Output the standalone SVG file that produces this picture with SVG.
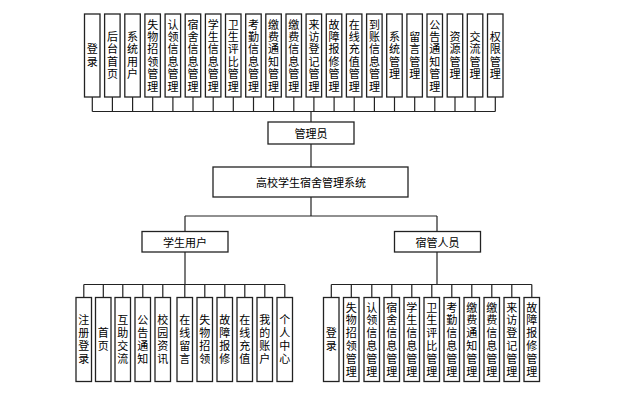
<svg xmlns="http://www.w3.org/2000/svg" width="627" height="398" viewBox="0 0 627 398">
<style>
.box{fill:#fff;stroke:#222;stroke-width:1.3}
.ln{stroke:#222;stroke-width:1.2;fill:none}
.t{font-family:"Noto Sans CJK SC","Noto Sans",sans-serif;font-size:11px;fill:#000;text-anchor:middle;dominant-baseline:central}
.v{font-family:"Noto Sans CJK SC","Noto Sans",sans-serif;font-size:11px;fill:#000;text-anchor:middle;writing-mode:vertical-rl;text-orientation:upright}
.vt{letter-spacing:1.4px}
.vb{letter-spacing:1.8px}
</style>
<rect width="627" height="398" fill="#fff"/>
<g id="connectors" class="ln">
<path d="M92.3 97V111.5M112.4 97V111.5M132.6 97V111.5M152.7 97V111.5M172.9 97V111.5M193 97V111.5M213.2 97V111.5M233.3 97V111.5M253.5 97V111.5M273.6 97V111.5M293.8 97V111.5M313.9 97V111.5M334.1 97V111.5M354.2 97V111.5M374.4 97V111.5M394.5 97V111.5M414.7 97V111.5M434.8 97V111.5M455 97V111.5M475.1 97V111.5M495.3 97V111.5"/>
<path d="M92.3 111.5H495.3M311 111.5V122M311 144V167M311 197V216M185 216H437M185 216V231.5M437 216V231.5M185 252V284.5M437 252V284.5"/>
<path d="M83.8 284.5H284.8M83.8 284.5V297.5M103.3 284.5V297.5M122.8 284.5V297.5M142.8 284.5V297.5M162.8 284.5V297.5M184.8 284.5V297.5M204.8 284.5V297.5M224.8 284.5V297.5M244.8 284.5V297.5M264.8 284.5V297.5M284.8 284.5V297.5"/>
<path d="M331.3 284.5H531.8M331.3 284.5V297.5M351.3 284.5V297.5M371.8 284.5V297.5M391.8 284.5V297.5M411.8 284.5V297.5M431.8 284.5V297.5M451.8 284.5V297.5M471.8 284.5V297.5M491.8 284.5V297.5M511.8 284.5V297.5M531.8 284.5V297.5"/>
</g>
<g id="admin"><rect class="box" x="268" y="122" width="86" height="22"/><text class="t" x="311" y="133">管理员</text></g>
<g id="system"><rect class="box" x="213" y="167" width="195" height="30"/><text class="t" x="311" y="182">高校学生宿舍管理系统</text></g>
<g id="student"><rect class="box" x="142" y="231.5" width="86" height="20.5"/><text class="t" x="185" y="241.8">学生用户</text></g>
<g id="dorm"><rect class="box" x="394.5" y="231.5" width="86" height="20.5"/><text class="t" x="437.5" y="241.8">宿管人员</text></g>

<g id="a0"><rect class="box" x="84.5" y="14" width="15.5" height="83"/><text class="v vt" x="92.3" y="56.2">登录</text></g>
<g id="a1"><rect class="box" x="104.6" y="14" width="15.5" height="83"/><text class="v vt" x="112.4" y="56.2">后台首页</text></g>
<g id="a2"><rect class="box" x="124.8" y="14" width="15.5" height="83"/><text class="v vt" x="132.6" y="56.2">系统用户</text></g>
<g id="a3"><rect class="box" x="144.9" y="14" width="15.5" height="83"/><text class="v vt" x="152.7" y="56.2">失物招领管理</text></g>
<g id="a4"><rect class="box" x="165.1" y="14" width="15.5" height="83"/><text class="v vt" x="172.9" y="56.2">认领信息管理</text></g>
<g id="a5"><rect class="box" x="185.2" y="14" width="15.5" height="83"/><text class="v vt" x="193" y="56.2">宿舍信息管理</text></g>
<g id="a6"><rect class="box" x="205.4" y="14" width="15.5" height="83"/><text class="v vt" x="213.2" y="56.2">学生信息管理</text></g>
<g id="a7"><rect class="box" x="225.5" y="14" width="15.5" height="83"/><text class="v vt" x="233.3" y="56.2">卫生评比管理</text></g>
<g id="a8"><rect class="box" x="245.7" y="14" width="15.5" height="83"/><text class="v vt" x="253.5" y="56.2">考勤信息管理</text></g>
<g id="a9"><rect class="box" x="265.8" y="14" width="15.5" height="83"/><text class="v vt" x="273.6" y="56.2">缴费通知管理</text></g>
<g id="a10"><rect class="box" x="286" y="14" width="15.5" height="83"/><text class="v vt" x="293.8" y="56.2">缴费信息管理</text></g>
<g id="a11"><rect class="box" x="306.1" y="14" width="15.5" height="83"/><text class="v vt" x="313.9" y="56.2">来访登记管理</text></g>
<g id="a12"><rect class="box" x="326.3" y="14" width="15.5" height="83"/><text class="v vt" x="334.1" y="56.2">故障报修管理</text></g>
<g id="a13"><rect class="box" x="346.4" y="14" width="15.5" height="83"/><text class="v vt" x="354.2" y="56.2">在线充值管理</text></g>
<g id="a14"><rect class="box" x="366.6" y="14" width="15.5" height="83"/><text class="v vt" x="374.4" y="56.2">到账信息管理</text></g>
<g id="a15"><rect class="box" x="386.7" y="14" width="15.5" height="83"/><text class="v vt" x="394.5" y="56.2">系统管理</text></g>
<g id="a16"><rect class="box" x="406.9" y="14" width="15.5" height="83"/><text class="v vt" x="414.7" y="56.2">留言管理</text></g>
<g id="a17"><rect class="box" x="427" y="14" width="15.5" height="83"/><text class="v vt" x="434.8" y="56.2">公告通知管理</text></g>
<g id="a18"><rect class="box" x="447.2" y="14" width="15.5" height="83"/><text class="v vt" x="455" y="56.2">资源管理</text></g>
<g id="a19"><rect class="box" x="467.3" y="14" width="15.5" height="83"/><text class="v vt" x="475.1" y="56.2">交流管理</text></g>
<g id="a20"><rect class="box" x="487.5" y="14" width="15.5" height="83"/><text class="v vt" x="495.3" y="56.2">权限管理</text></g>

<g id="s0"><rect class="box" x="76" y="297.5" width="15.5" height="84"/><text class="v vb" x="83.8" y="340.4">注册登录</text></g>
<g id="s1"><rect class="box" x="95.5" y="297.5" width="15.5" height="84"/><text class="v vb" x="103.3" y="340.4">首页</text></g>
<g id="s2"><rect class="box" x="115" y="297.5" width="15.5" height="84"/><text class="v vb" x="122.8" y="340.4">互助交流</text></g>
<g id="s3"><rect class="box" x="135" y="297.5" width="15.5" height="84"/><text class="v vb" x="142.8" y="340.4">公告通知</text></g>
<g id="s4"><rect class="box" x="155" y="297.5" width="15.5" height="84"/><text class="v vb" x="162.8" y="340.4">校园资讯</text></g>
<g id="s5"><rect class="box" x="177" y="297.5" width="15.5" height="84"/><text class="v vb" x="184.8" y="340.4">在线留言</text></g>
<g id="s6"><rect class="box" x="197" y="297.5" width="15.5" height="84"/><text class="v vb" x="204.8" y="340.4">失物招领</text></g>
<g id="s7"><rect class="box" x="217" y="297.5" width="15.5" height="84"/><text class="v vb" x="224.8" y="340.4">故障报修</text></g>
<g id="s8"><rect class="box" x="237" y="297.5" width="15.5" height="84"/><text class="v vb" x="244.8" y="340.4">在线充值</text></g>
<g id="s9"><rect class="box" x="257" y="297.5" width="15.5" height="84"/><text class="v vb" x="264.8" y="340.4">我的账户</text></g>
<g id="s10"><rect class="box" x="277" y="297.5" width="15.5" height="84"/><text class="v vb" x="284.8" y="340.4">个人中心</text></g>

<g id="d0"><rect class="box" x="323.5" y="297.5" width="15.5" height="84"/><text class="v vb" x="331.3" y="340.4">登录</text></g>
<g id="d1"><rect class="box" x="343.5" y="297.5" width="15.5" height="84"/><text class="v vb" x="351.3" y="340.4">失物招领管理</text></g>
<g id="d2"><rect class="box" x="364" y="297.5" width="15.5" height="84"/><text class="v vb" x="371.8" y="340.4">认领信息管理</text></g>
<g id="d3"><rect class="box" x="384" y="297.5" width="15.5" height="84"/><text class="v vb" x="391.8" y="340.4">宿舍信息管理</text></g>
<g id="d4"><rect class="box" x="404" y="297.5" width="15.5" height="84"/><text class="v vb" x="411.8" y="340.4">学生信息管理</text></g>
<g id="d5"><rect class="box" x="424" y="297.5" width="15.5" height="84"/><text class="v vb" x="431.8" y="340.4">卫生评比管理</text></g>
<g id="d6"><rect class="box" x="444" y="297.5" width="15.5" height="84"/><text class="v vb" x="451.8" y="340.4">考勤信息管理</text></g>
<g id="d7"><rect class="box" x="464" y="297.5" width="15.5" height="84"/><text class="v vb" x="471.8" y="340.4">缴费通知管理</text></g>
<g id="d8"><rect class="box" x="484" y="297.5" width="15.5" height="84"/><text class="v vb" x="491.8" y="340.4">缴费信息管理</text></g>
<g id="d9"><rect class="box" x="504" y="297.5" width="15.5" height="84"/><text class="v vb" x="511.8" y="340.4">来访登记管理</text></g>
<g id="d10"><rect class="box" x="524" y="297.5" width="15.5" height="84"/><text class="v vb" x="531.8" y="340.4">故障报修管理</text></g>
</svg>
